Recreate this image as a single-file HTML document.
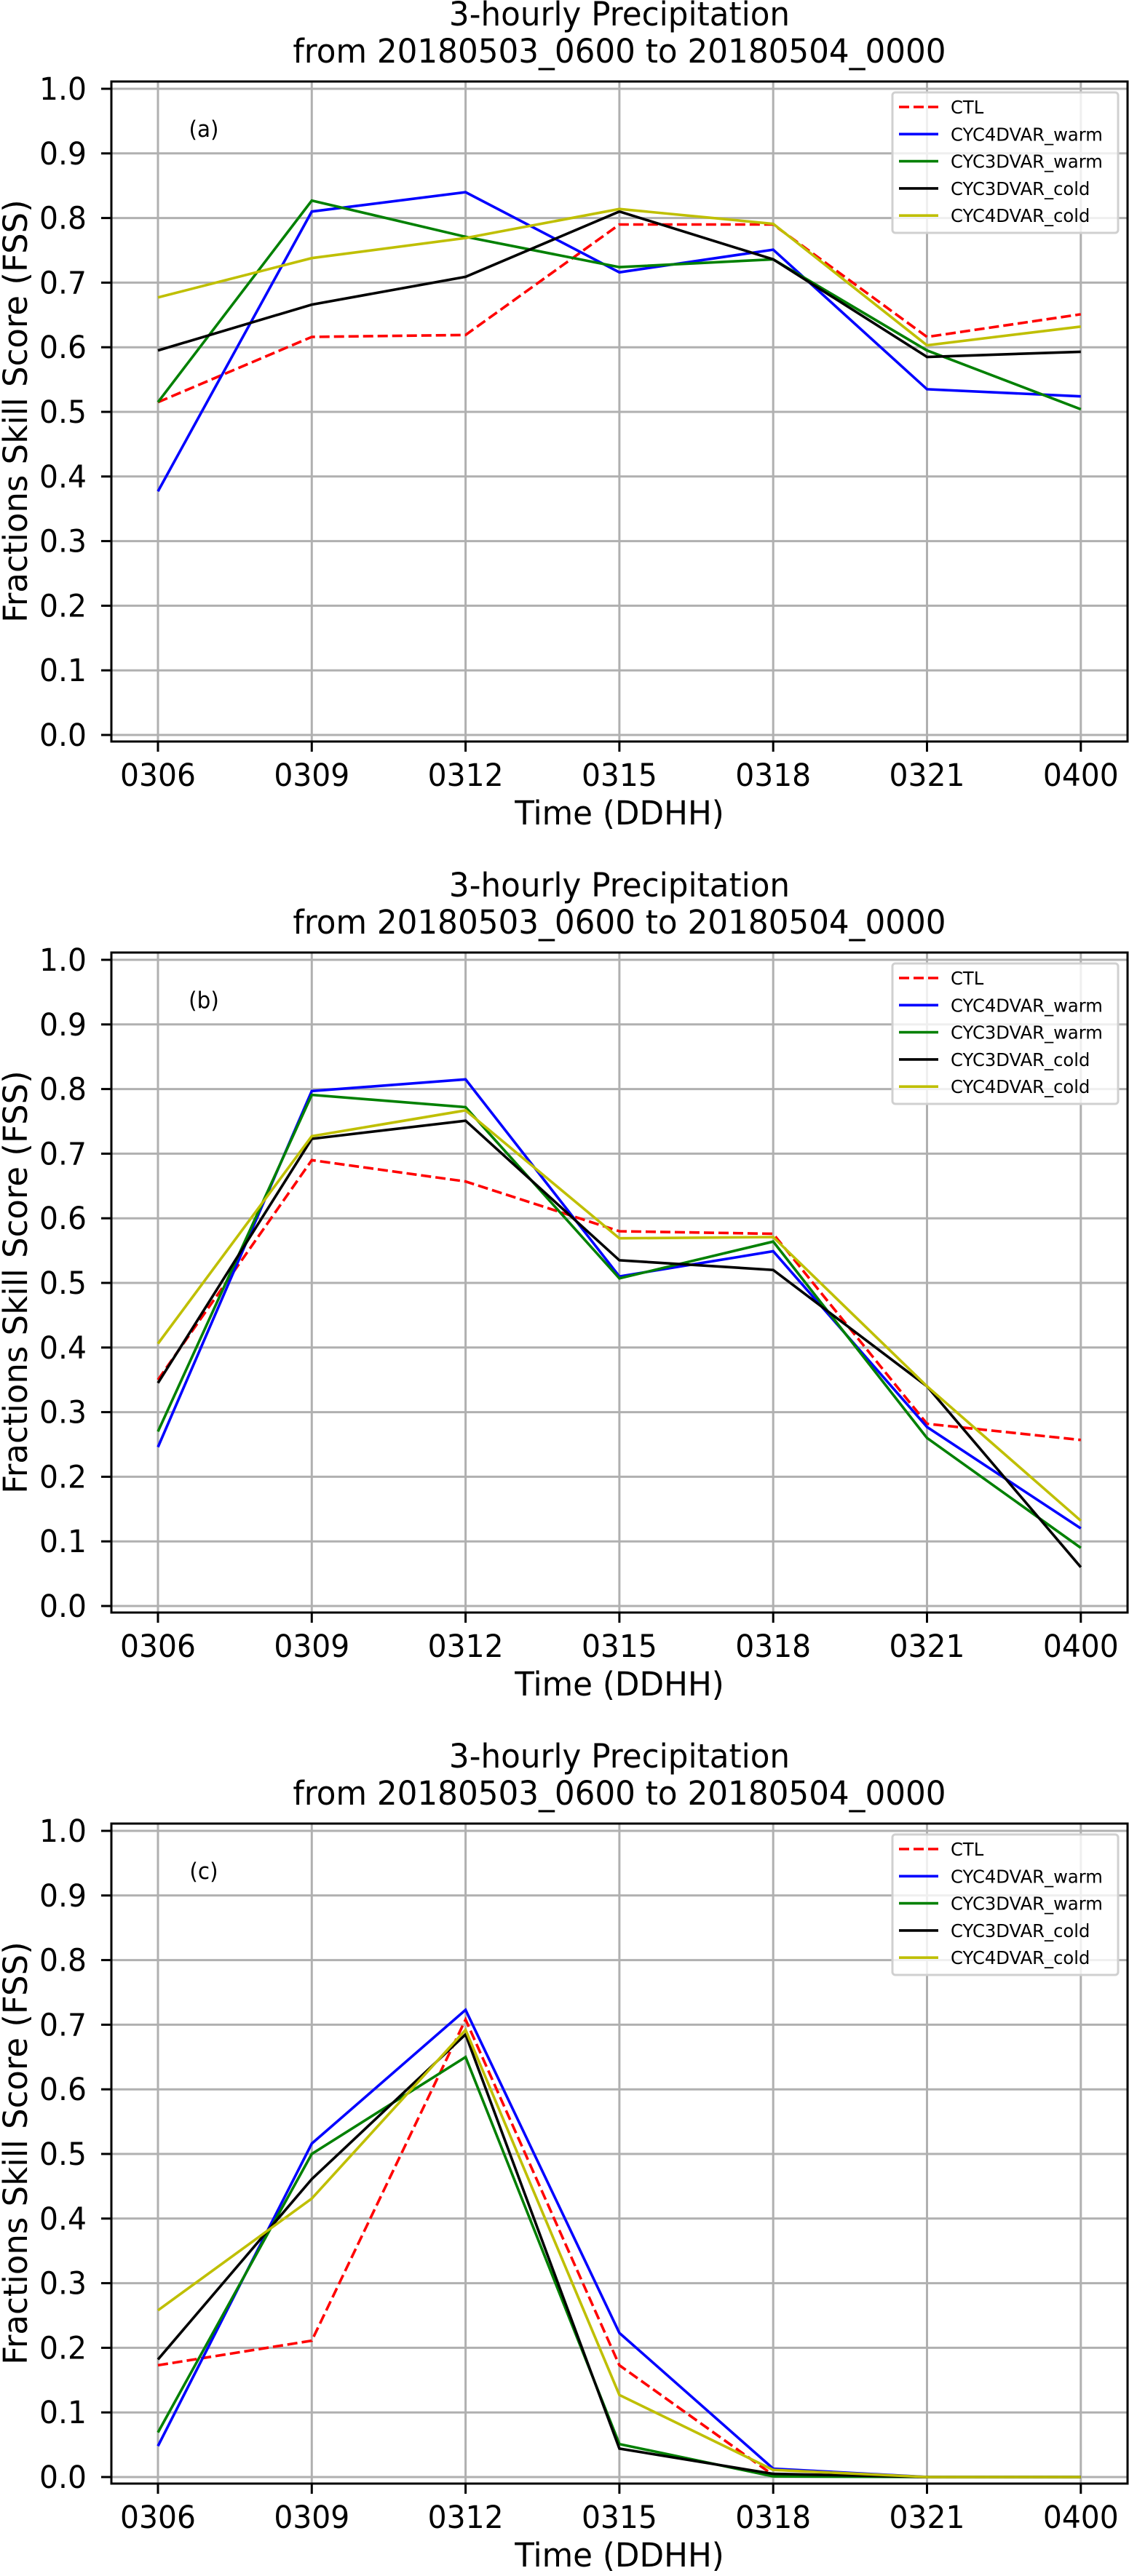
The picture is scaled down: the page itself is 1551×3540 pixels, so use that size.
<!DOCTYPE html>
<html><head><meta charset="utf-8"><style>
html,body{margin:0;padding:0;background:#fff;}
svg{display:block;font-family:"DejaVu Sans","Liberation Sans",sans-serif;}
</style></head><body>
<svg id="fig" width="1551" height="3540" viewBox="0 0 1551 3540" xmlns="http://www.w3.org/2000/svg"></svg>
<script>
const categories = ["0306","0309","0312","0315","0318","0321","0400"];
const yTicks = ["0.0","0.1","0.2","0.3","0.4","0.5","0.6","0.7","0.8","0.9","1.0"];
const seriesNames = ["CTL","CYC4DVAR_warm","CYC3DVAR_warm","CYC3DVAR_cold","CYC4DVAR_cold"];
const panelLabels = ["(a)","(b)","(c)"];
// panel (a)
const aCTL = [0.515,0.616,0.619,0.790,0.790,0.616,0.651];
const aC4w = [0.377,0.810,0.840,0.716,0.751,0.535,0.524];
const aC3w = [0.515,0.827,0.771,0.724,0.736,0.595,0.504];
const aC3c = [0.595,0.666,0.709,0.810,0.736,0.585,0.593];
const aC4c = [0.677,0.738,0.769,0.814,0.791,0.603,0.632];
// panel (b)
const bCTL = [0.350,0.690,0.657,0.580,0.576,0.282,0.257];
const bC4w = [0.246,0.797,0.815,0.510,0.549,0.277,0.120];
const bC3w = [0.270,0.791,0.772,0.507,0.564,0.260,0.090];
const bC3c = [0.345,0.723,0.751,0.535,0.520,0.340,0.060];
const bC4c = [0.406,0.727,0.767,0.569,0.571,0.340,0.132];
// panel (c)
const cCTL = [0.173,0.211,0.708,0.173,0.003,0.0,0.0];
const cC4w = [0.048,0.516,0.723,0.223,0.013,0.0,0.0];
const cC3w = [0.069,0.500,0.650,0.051,0.001,0.0,0.0];
const cC3c = [0.182,0.461,0.685,0.044,0.005,0.0,0.0];
const cC4c = [0.258,0.431,0.692,0.127,0.011,0.0,0.0];

const panels = [[aCTL,aC4w,aC3w,aC3c,aC4c],[bCTL,bC4w,bC3w,bC3c,bC4c],[cCTL,cC4w,cC3w,cC3c,cC4c]];
const colors = ["#ff0000","#0000ff","#008000","#000000","#bfbf00"];
const NS = "http://www.w3.org/2000/svg";
const svg = document.getElementById("fig");
function mk(tag, attrs, parent){const e=document.createElementNS(NS,tag);for(const k in attrs)e.setAttribute(k,attrs[k]);(parent||svg).appendChild(e);return e;}
function txt(s,x,y,size,anchor,parent,sx){const t=mk("text",{transform:"translate("+x+","+y+") scale("+(sx||1)+",1)","font-size":size,"text-anchor":anchor||"middle",fill:"#000"},parent);t.textContent=s;return t;}

const L=153,R=1549,Tp=112,Bt=1019;
const OFF=1197;
panels.forEach((series,p)=>{
  const o=p*OFF;
  const g=mk("g",{});
  
  
  const xs=i=>217+i*211.3;
  const ys=v=>1010+o-v*888;
  const t1=txt("3-hourly Precipitation",851,35+o,45,"middle",g,0.97);
  
  
  const t2=txt("from 20180503_0600 to 20180504_0000",851,86+o,45,"middle",g,0.97);
  
  
  yTicks.forEach((lab,k)=>{
    const v=parseFloat(lab), y=ys(v);
    const gl=mk("line",{x1:L,x2:R,y1:y,y2:y,stroke:"#b0b0b0","stroke-width":3},g);
    
    
    mk("line",{x1:L-14,x2:L,y1:y,y2:y,stroke:"#000","stroke-width":3},g);
    const tl=txt(lab,119,y+15,43,"end",g,0.95);
    
    
  });
  categories.forEach((c,i)=>{
    const x=xs(i);
    const gl=mk("line",{x1:x,x2:x,y1:Tp+o,y2:Bt+o,stroke:"#b0b0b0","stroke-width":3},g);
    
    
    mk("line",{x1:x,x2:x,y1:Bt+o,y2:Bt+o+14,stroke:"#000","stroke-width":3},g);
    const tl=txt(c,x,1080+o,43,"middle",g,0.95);
    
    
  });
  series.forEach((vals,s)=>{
    const pts=vals.map((v,i)=>xs(i).toFixed(1)+","+ys(v).toFixed(1)).join(" ");
    const pl=mk("polyline",{points:pts,fill:"none",stroke:colors[s],"stroke-width":3.6,"stroke-linejoin":"miter"},g);
    if(s===0){pl.setAttribute("stroke-dasharray","14 6");}
    
    
  });
  const fr=mk("rect",{x:L,y:Tp+o,width:R-L,height:Bt-Tp,fill:"none",stroke:"#000","stroke-width":3},g);
  
  
  const pl=txt(panelLabels[p],280,188+o,31,"middle",g,0.95);
  
  
  const lg=mk("g",{},g);
  
  
  mk("rect",{x:1226,y:127+o,width:310,height:193,rx:4,fill:"rgba(255,255,255,0.8)",stroke:"#d0d0d0","stroke-width":3},lg);
  seriesNames.forEach((n,s)=>{
    const y=147+o+s*37.3;
    const ln=mk("line",{x1:1235,x2:1289,y1:y,y2:y,stroke:colors[s],"stroke-width":3.6},lg);
    if(s===0)ln.setAttribute("stroke-dasharray","14 6");
    const lt=txt(n,1306,y+9,25,"start",lg,0.97);
    
    
  });
  const xl=txt("Time (DDHH)",851,1133+o,45,"middle",g,0.97);
  
  
  const yl=mk("text",{transform:"translate(37,"+(565+o)+") rotate(-90)","font-size":45,"text-anchor":"middle",fill:"#000"},g);
  yl.textContent="Fractions Skill Score (FSS)";
  
  
});
</script>
</body></html>
